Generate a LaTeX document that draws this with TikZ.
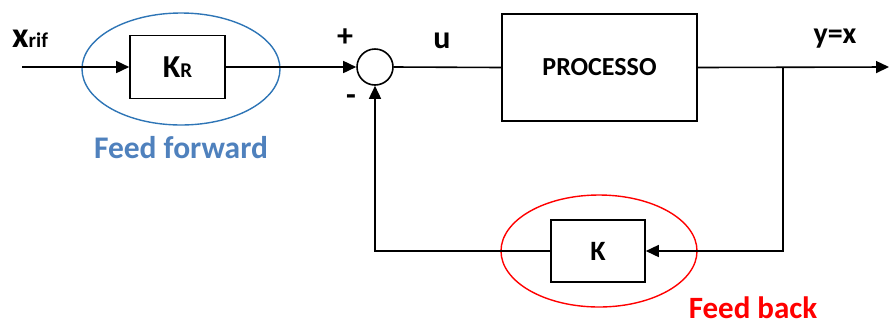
\documentclass[tikz,border=0pt]{standalone}
\usepackage{fontspec}
\setmainfont{Carlito}
\usetikzlibrary{arrows.meta,shapes.geometric}
\definecolor{ffblue}{HTML}{2E75B6}
\definecolor{fftext}{HTML}{4F81BD}
\definecolor{fbred}{HTML}{FF0000}
\tikzset{
  blk/.style={draw, line width=1.6pt, fill=white, inner sep=0pt, font=\bfseries},
  wire/.style={line width=1.6pt},
  arr/.style={wire, -{Triangle[length=13pt,width=12pt]}},
  ring/.style={ellipse, draw, line width=1.4pt, inner sep=0pt},
  lbl/.style={font=\bfseries, inner sep=0pt},
}
\begin{document}
\begin{tikzpicture}[x=1pt,y=-1pt]
\useasboundingbox (0,0) rectangle (890,325);
% ellipses
\node[ring, draw=ffblue, minimum width=198pt, minimum height=112pt] (ffring) at (181,69) {};
\node[ring, draw=fbred, minimum width=196pt, minimum height=112pt] (fbring) at (599,251) {};
% blocks
\node[blk, minimum width=95pt, minimum height=63pt] (kr) at (177.5,67) {{\fontsize{32}{32}\selectfont K}{\fontsize{21}{21}\selectfont R}};
\node[circle, draw, line width=1.6pt, minimum size=36pt, inner sep=0pt] (sum) at (375,67) {};
\node[blk, minimum width=195pt, minimum height=107pt, font=\bfseries\fontsize{26}{26}\selectfont] (proc) at (599.5,67.5) {PROCESSO};
\node[blk, minimum width=94pt, minimum height=62pt, font=\bfseries\fontsize{28}{28}\selectfont] (k) at (598,251) {K};
% coordinates
\coordinate (in) at (22,67);
\coordinate (out) at (889,67);
\coordinate (br) at (783,67);
% connectors
\draw[arr] (in) -- (kr.west);
\draw[arr] (kr.east) -- (sum.west);
\draw[wire] (sum.east) -- (proc.west);
\draw[arr] (proc.east) -- (out);
\draw[arr] (br) |- (k.east);
\draw[arr] (k.west) -| (sum.south);
% labels
\node[lbl, font=\bfseries\fontsize{31.5}{31.5}\selectfont, text=fftext, anchor=base] (fftxt) at (181,158) {Feed forward};
\node[lbl, font=\bfseries\fontsize{31}{31}\selectfont, text=fbred, anchor=base] (fbtxt) at (753,318) {Feed back};
\node[lbl, font=\bfseries\fontsize{32}{32}\selectfont] (plus) at (345,38) {+};
\node[lbl, font=\bfseries\fontsize{32}{32}\selectfont] (minus) at (351,100) {-};
\node[lbl, font=\bfseries\fontsize{32}{32}\selectfont, anchor=base] (ulbl) at (442,48) {u};
\node[lbl, font=\bfseries\fontsize{30}{30}\selectfont, anchor=base] (ylbl) at (835,43) {y=x};
\node[lbl, anchor=base west] (xlbl) at (12,47) {{\fontsize{36}{36}\selectfont x}{\fontsize{21}{21}\selectfont rif}};
\end{tikzpicture}
\end{document}
